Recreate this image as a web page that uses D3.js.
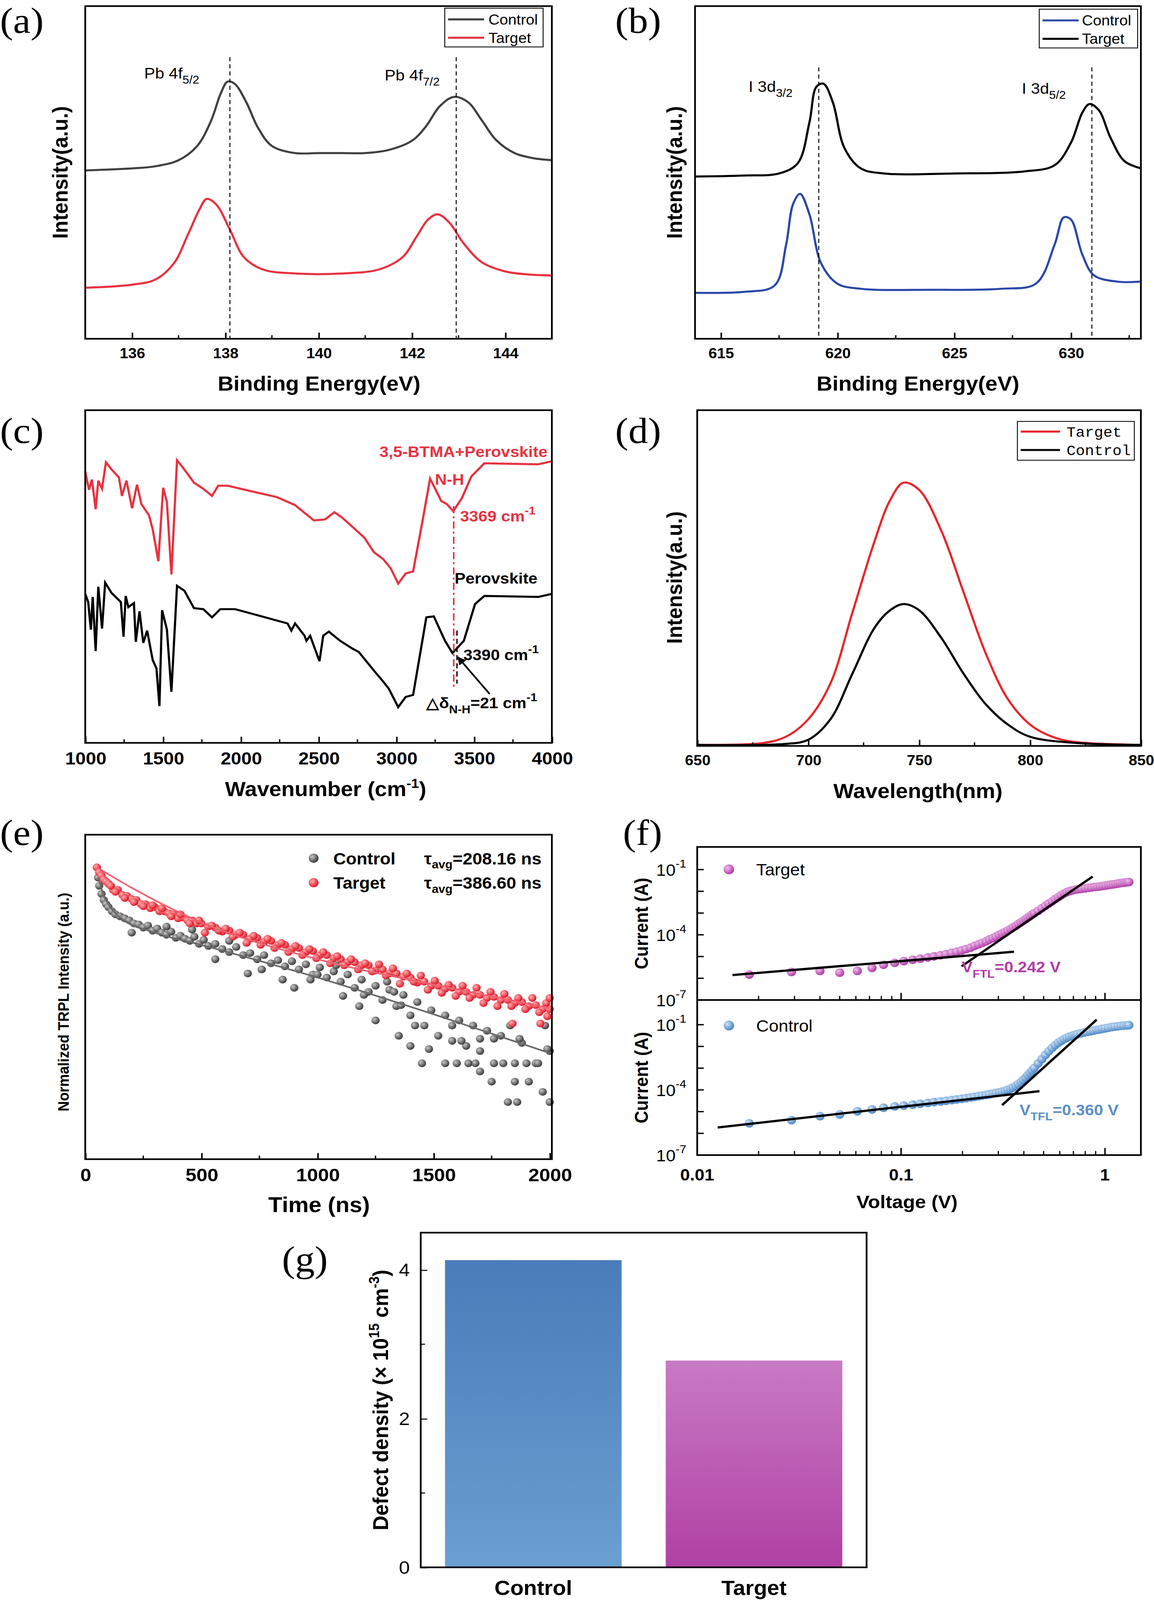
<!DOCTYPE html>
<html><head><meta charset="utf-8">
<script src="https://cdn.jsdelivr.net/npm/d3@7"></script>
<style>html,body{margin:0;padding:0;background:#fff;overflow:hidden}svg{display:block}text{font-family:"Liberation Sans",Arial,sans-serif}</style>
</head><body>
<svg id="fig" viewBox="0 0 1056 1568" preserveAspectRatio="none" style="width:100vw;height:100vh"></svg>
<script>
// ---- data (a) Pb 4f XPS: [binding energy, intensity]
const pbControl = [[135,165],[136,167],[136.5,169],[137,175],[137.4,189],[137.7,214],[137.9,240],[138.05,252],[138.2,250],[138.45,232],[138.7,207],[139,189],[139.5,182],[140,182],[140.5,182],[141,182],[141.5,185],[142,194],[142.3,208],[142.6,228],[142.9,237],[143.2,232],[143.5,214],[143.8,195],[144.2,182],[144.6,177],[145,175]];
const pbTarget = [[135,50],[136,53],[136.5,58],[136.9,74],[137.2,102],[137.45,127],[137.6,137],[137.8,132],[138.1,107],[138.4,80],[138.8,68],[139.5,64],[140.5,64],[141.3,68],[141.8,80],[142.1,100],[142.35,117],[142.55,122],[142.8,114],[143.1,94],[143.5,75],[144,66],[144.5,63],[145,62]];
const pbPeaks = [138.1, 142.95];
// (b) I 3d XPS
const iTarget = [[613.9,159],[616,160],[617.5,162],[618.3,172],[618.8,212],[619.1,247],[619.4,250],[619.8,232],[620.3,187],[621,167],[622,162],[625,162],[628,164],[629.3,170],[630,192],[630.5,222],[630.8,230],[631.2,224],[631.7,197],[632.3,174],[633,167]];
const iControl = [[613.9,45],[616,46],[617.3,52],[617.8,92],[618.1,132],[618.4,142],[618.8,122],[619.3,74],[620,54],[621,49],[624,48],[627,49],[628.5,54],[629.3,92],[629.7,119],[630,117],[630.5,82],[631,62],[632,56],[633,56]];
const iPeaks = [619.2, 630.9];
// (c) FTIR: [wavenumber, transmittance (a.u.)]
const ftirTarget = [[1000,266],[1024,248],[1043,258],[1067,229],[1084,257],[1108,249],[1133,275],[1169,268],[1217,260],[1236,242],[1265,257],[1301,230],[1333,253],[1361,234],[1410,223],[1434,209],[1470,178],[1501,250],[1525,236],[1554,165],[1590,277],[1627,270],[1699,255],[1759,249],[1815,242],[1855,252],[1916,252],[2084,246],[2229,241],[2349,233],[2470,218],[2542,219],[2602,226],[2650,221],[2723,211],[2795,201],[2855,187],[2916,180],[2964,171],[3012,156],[3060,166],[3108,168],[3169,218],[3217,259],[3253,248],[3289,237],[3325,234],[3366,227],[3422,240],[3482,261],[3566,274],[3913,273],[4000,276]];
const ftirControl = [[1000,146],[1019,138],[1036,111],[1048,143],[1067,90],[1084,153],[1108,112],[1128,157],[1169,147],[1229,138],[1246,104],[1260,144],[1277,133],[1313,137],[1325,99],[1349,129],[1373,98],[1398,110],[1434,81],[1458,73],[1477,36],[1494,130],[1525,111],[1554,50],[1590,154],[1638,149],[1699,132],[1759,131],[1815,123],[1868,131],[1964,131],[2133,124],[2301,117],[2325,110],[2349,117],[2410,105],[2422,100],[2446,105],[2506,80],[2530,105],[2566,109],[2639,100],[2711,93],[2759,89],[2855,71],[2916,60],[2952,53],[3012,35],[3060,45],[3108,47],[3193,123],[3241,124],[3313,100],[3361,88],[3434,100],[3506,136],[3566,144],[3913,143],[4000,146]];
const nhPeaks = [3369, 3390];
// (d) PL: [wavelength, intensity]
const plTarget = [[650,1],[680,3],[690,9],[700,26],[710,61],[720,131],[730,201],[737,241],[743,258],[750,251],[760,211],[770,151],[780,91],[790,46],[800,21],[810,9],[820,4],[850,1]];
const plControl = [[650,1],[690,2],[700,6],[710,26],[720,71],[730,116],[737,133],[743,139],[750,133],[760,106],[770,71],[780,41],[790,21],[800,9],[820,3],[850,1]];
// (e) TRPL: [time ns, signal (a.u.)]
const trTarget = [[50,286],[60,281],[70,278],[80,274],[90,272],[100,270],[120,264],[140,264],[160,259],[180,258],[200,255],[220,254],[240,250],[260,250],[280,246],[300,247],[320,243],[340,243],[360,241],[380,240],[400,236],[420,237],[440,234],[460,234],[480,231],[500,231],[530,228],[560,227],[590,223],[620,224],[650,220],[680,220],[710,216],[740,217],[770,213],[800,214],[830,210],[860,210],[890,206],[920,207],[950,203],[980,204],[1010,200],[1040,200],[1070,197],[1100,196],[1130,193],[1160,193],[1190,190],[1220,190],[1250,185],[1280,186],[1310,182],[1340,182],[1370,179],[1400,178],[1430,173],[1460,174],[1490,170],[1520,170],[1550,167],[1580,168],[1610,164],[1640,164],[1670,161],[1700,161],[1730,158],[1760,159],[1790,156],[1820,156],[1850,153],[1880,154],[1910,150],[1940,151],[1970,147],[2000,147],
  [110,268],[130,262],[170,256],[210,252],[250,248],[290,249],[330,246],[370,238],[410,240],[450,231],[490,234],[515,222],[545,229],[575,224],[605,226],[635,218],[665,222],[695,212],[725,219],[755,210],[785,216],[815,207],[845,212],[875,203],[905,209],[935,200],[965,206],[995,197],[1025,203],[1055,192],[1085,199],[1115,190],[1145,196],[1175,186],[1205,192],[1235,184],[1265,191],[1295,180],[1325,187],[1355,172],[1385,182],[1415,174],[1445,180],[1475,166],[1505,175],[1535,163],[1565,171],[1595,160],[1625,170],[1655,158],[1685,168],[1715,153],[1745,164],[1775,150],[1805,162],[1835,150],[1865,158],[1895,147],[1925,158],[1955,144],[1985,153],
  [1960,133],[1990,140],[1840,133],[2000,158]];
const trControl = [[50,286],[55,276],[60,268],[70,260],[80,254],[90,250],[100,247],[115,243],[130,240],[150,238],[170,236],[190,234],[210,231],[230,230],[250,227],[270,229],[290,224],[310,226],[330,222],[350,220],[370,223],[390,217],[410,219],[430,216],[450,214],[470,218],[490,211],[510,215],[530,209],[560,211],[590,206],[620,203],[650,208],[680,200],[710,202],[740,196],[770,200],[800,192],[830,195],[860,189],[890,194],[920,186],[950,191],[980,181],[1010,188],[1040,178],[1070,184],[1100,174],[1130,181],[1160,168],[1190,176],[1220,164],[1250,170],[1280,156],[1310,166],[1340,150],[1370,161],[1400,141],[1430,154],[1460,131],[1490,146],[1520,121],[1550,141],[1580,116],[1610,136],[1640,111],[1670,131],[1700,106],[1730,126],[1760,94],[1790,121],[1820,56],[1850,94],[1880,114],[1910,76],[1940,94],[1970,66],[2000,106],[2000,56],[1000,181],[1200,161],[1400,111],[1600,94],[1680,94],[1750,76],[1450,94],[1550,94],[1650,94],[1250,136],[1350,121],[1800,94],[1900,94],[1950,94],[1850,76],
  [200,222],[350,228],[460,225],[560,196],[620,214],[700,182],[760,186],[850,176],[900,168],[970,176],[1080,190],[1110,160],[1180,150],[1300,174],[1330,164],[1360,151],[1420,131],[1480,108],[1580,131],[1620,116],[1700,118],[1760,118],[1830,131],[1870,118],[1980,131],[1990,108],[1700,86],[1860,56]];
const trFitControl = [[50,286],[70,265],[100,250],[150,237],[300,222],[500,210],[1000,178],[1500,142],[2000,104]];
const trFitTarget = [[50,286],[200,266],[500,232],[1000,196],[1500,171],[2000,148]];
// (f) SCLC: [voltage V, log10 current]
const ivTarget = [[0.018,-5.83],[0.029,-5.71],[0.040,-5.66],[0.050,-5.74],[0.061,-5.66],[0.072,-5.52],[0.082,-5.38],[0.093,-5.29],[0.103,-5.21],[0.114,-5.15],[0.124,-5.10],[0.135,-5.04],[0.145,-4.99],[0.156,-4.94],[0.166,-4.89],[0.177,-4.83],[0.187,-4.78],[0.198,-4.72],[0.208,-4.66],[0.219,-4.59],[0.229,-4.51],[0.240,-4.44],[0.250,-4.37],[0.261,-4.30],[0.271,-4.22],[0.282,-4.15],[0.292,-4.08],[0.303,-4.00],[0.313,-3.93],[0.324,-3.87],[0.334,-3.80],[0.345,-3.73],[0.355,-3.65],[0.366,-3.58],[0.376,-3.50],[0.387,-3.43],[0.397,-3.36],[0.408,-3.28],[0.418,-3.21],[0.429,-3.14],[0.439,-3.07],[0.45,-3.0],[0.47,-2.9],[0.49,-2.78],[0.51,-2.67],[0.53,-2.56],[0.55,-2.46],[0.57,-2.36],[0.59,-2.27],[0.61,-2.18],[0.63,-2.1],[0.65,-2.04],[0.67,-1.99],[0.69,-1.96],[0.71,-1.93],[0.73,-1.91],[0.75,-1.9],[0.77,-1.88],[0.8,-1.86],[0.83,-1.84],[0.86,-1.82],[0.89,-1.80],[0.92,-1.79],[0.95,-1.77],[0.98,-1.75],[1.01,-1.73],[1.04,-1.71],[1.07,-1.69],[1.1,-1.68],[1.13,-1.66],[1.16,-1.64],[1.19,-1.62],[1.22,-1.61],[1.25,-1.6],[1.28,-1.58],[1.31,-1.57]];
const ivControl = [[0.018,-5.54],[0.029,-5.39],[0.040,-5.21],[0.050,-5.13],[0.061,-4.98],[0.072,-4.90],[0.082,-4.82],[0.093,-4.76],[0.103,-4.72],[0.114,-4.68],[0.124,-4.64],[0.135,-4.6],[0.145,-4.56],[0.156,-4.53],[0.166,-4.5],[0.177,-4.47],[0.187,-4.44],[0.198,-4.41],[0.208,-4.38],[0.219,-4.35],[0.229,-4.32],[0.240,-4.29],[0.250,-4.26],[0.261,-4.23],[0.271,-4.2],[0.282,-4.17],[0.292,-4.14],[0.303,-4.11],[0.313,-4.08],[0.324,-4.04],[0.334,-3.99],[0.345,-3.94],[0.355,-3.88],[0.366,-3.81],[0.376,-3.73],[0.387,-3.64],[0.397,-3.54],[0.408,-3.43],[0.418,-3.32],[0.429,-3.21],[0.439,-3.10],[0.45,-2.99],[0.47,-2.78],[0.49,-2.58],[0.51,-2.39],[0.53,-2.22],[0.55,-2.07],[0.57,-1.94],[0.59,-1.83],[0.61,-1.74],[0.63,-1.66],[0.65,-1.6],[0.67,-1.55],[0.69,-1.51],[0.71,-1.47],[0.73,-1.44],[0.76,-1.40],[0.79,-1.36],[0.82,-1.33],[0.85,-1.30],[0.88,-1.27],[0.91,-1.24],[0.94,-1.22],[0.97,-1.19],[1.0,-1.17],[1.04,-1.14],[1.08,-1.11],[1.12,-1.09],[1.16,-1.07],[1.2,-1.05],[1.24,-1.04],[1.28,-1.03],[1.31,-1.02]];
const fitTarget = [[[0.0149,-5.85],[0.358,-4.78]],[[0.198,-5.45],[0.87,-1.32]]];
const fitControl = [[[0.0126,-5.73],[0.477,-4.06]],[[0.313,-4.70],[0.91,-0.77]]];
// (g) defect density
const devices = ["Control", "Target"];
const defectDensity = [4.13, 2.78];

const svg = d3.select("#fig");
const black = "#000";
const defs = svg.append("defs");

function frame(x0, y0, x1, y1) {
  svg.append("rect").attr("x", x0).attr("y", y0).attr("width", x1 - x0).attr("height", y1 - y0)
    .attr("fill", "none").attr("stroke", black).attr("stroke-width", 1.6);
}
function label(x, y, txt, size, opts = {}) {
  const t = svg.append("text").attr("x", x).attr("y", y).attr("font-size", size)
    .attr("font-weight", opts.bold ? "bold" : "normal").attr("fill", opts.fill || black)
    .attr("text-anchor", opts.anchor || "start");
  if (opts.rotate) t.attr("transform", `rotate(-90,${x},${y})`);
  if (opts.family) t.style("font-family", opts.family);
  t.html(txt);
  return t;
}
function letter(x, y, s) { label(x, y, s, 36, { family: '"Liberation Serif",serif' }); }
function xAxis(scale, y, ticks, minor, size, fmt) {
  const g = svg.append("g").attr("transform", `translate(0,${y})`)
    .call(d3.axisBottom(scale).tickValues(ticks).tickSize(-6).tickPadding(9).tickFormat(fmt || d3.format("d")));
  g.select(".domain").remove();
  g.selectAll("text").attr("font-size", size).attr("font-weight", "bold").style("font-family", '"Liberation Sans",Arial');
  g.selectAll("line").attr("stroke-width", 1.4);
  if (minor) minor.forEach(v => svg.append("line").attr("x1", scale(v)).attr("x2", scale(v)).attr("y1", y).attr("y2", y - 3.5).attr("stroke", black).attr("stroke-width", 1.2));
}
const line = (sx, sy) => d3.line().x(d => sx(d[0])).y(d => sy(d[1]));

// ---------- (a)
{
  const x = d3.scaleLinear().domain([135, 145]).range([78, 505]);
  const y = d3.scaleLinear().domain([0, 326]).range([332, 6]);
  svg.append("path").datum(pbControl).attr("d", line(x, y).curve(d3.curveCatmullRom)).attr("fill", "none").attr("stroke", "#404040").attr("stroke-width", 2);
  svg.append("path").datum(pbTarget).attr("d", line(x, y).curve(d3.curveCatmullRom)).attr("fill", "none").attr("stroke", "#e8313f").attr("stroke-width", 2);
  pbPeaks.forEach(p => svg.append("line").attr("x1", x(p)).attr("x2", x(p)).attr("y1", 56).attr("y2", 332).attr("stroke", black).attr("stroke-dasharray", "4,3").attr("stroke-width", 0.9));
  frame(78, 6, 505, 332);
  xAxis(x, 332, [136, 138, 140, 142, 144], [135, 137, 139, 141, 143, 145], 14);
  label(292, 383, "Binding Energy(eV)", 20, { bold: true, anchor: "middle" });
  label(62, 169, "Intensity(a.u.)", 20, { bold: true, anchor: "middle", rotate: true });
  label(132, 77, 'Pb 4f<tspan dy="5" font-size="11">5/2</tspan>', 15);
  label(352, 79, 'Pb 4f<tspan dy="5" font-size="11">7/2</tspan>', 15);
  svg.append("rect").attr("x", 407).attr("y", 8).attr("width", 90).attr("height", 38).attr("fill", "#fff").attr("stroke", black).attr("stroke-width", 0.8);
  [["Control", "#404040"], ["Target", "#e8313f"]].forEach((d, i) => {
    svg.append("line").attr("x1", 410).attr("x2", 443).attr("y1", 19 + i * 18).attr("y2", 19 + i * 18).attr("stroke", d[1]).attr("stroke-width", 2);
    label(447, 24 + i * 18, d[0], 14);
  });
  letter(0, 32, "(a)");
}
// ---------- (b)
{
  const x = d3.scaleLinear().domain([613.9, 633]).range([636, 1044]);
  const y = d3.scaleLinear().domain([0, 326]).range([332, 6]);
  svg.append("path").datum(iTarget).attr("d", line(x, y).curve(d3.curveCatmullRom)).attr("fill", "none").attr("stroke", black).attr("stroke-width", 2);
  svg.append("path").datum(iControl).attr("d", line(x, y).curve(d3.curveCatmullRom)).attr("fill", "none").attr("stroke", "#2a48a8").attr("stroke-width", 2);
  iPeaks.forEach(p => svg.append("line").attr("x1", x(p)).attr("x2", x(p)).attr("y1", 66).attr("y2", 332).attr("stroke", black).attr("stroke-dasharray", "4,3").attr("stroke-width", 0.9));
  frame(636, 6, 1044, 332);
  xAxis(x, 332, [615, 620, 625, 630], [617.5, 622.5, 627.5, 632.5], 14);
  label(840, 383, "Binding Energy(eV)", 20, { bold: true, anchor: "middle" });
  label(624, 169, "Intensity(a.u.)", 20, { bold: true, anchor: "middle", rotate: true });
  label(685, 90, 'I 3d<tspan dy="5" font-size="11">3/2</tspan>', 15);
  label(935, 92, 'I 3d<tspan dy="5" font-size="11">5/2</tspan>', 15);
  svg.append("rect").attr("x", 951).attr("y", 9).attr("width", 90).attr("height", 38).attr("fill", "#fff").attr("stroke", black).attr("stroke-width", 0.8);
  [["Control", "#2a48a8"], ["Target", black]].forEach((d, i) => {
    svg.append("line").attr("x1", 954).attr("x2", 987).attr("y1", 20 + i * 18).attr("y2", 20 + i * 18).attr("stroke", d[1]).attr("stroke-width", 2);
    label(990, 25 + i * 18, d[0], 14);
  });
  letter(563, 32, "(b)");
}
// ---------- (c)
{
  const x = d3.scaleLinear().domain([1000, 4000]).range([78, 505]);
  const y = d3.scaleLinear().domain([0, 326]).range([728, 402]);
  svg.append("path").datum(ftirTarget).attr("d", line(x, y)).attr("fill", "none").attr("stroke", "#e8313f").attr("stroke-width", 2);
  svg.append("path").datum(ftirControl).attr("d", line(x, y)).attr("fill", "none").attr("stroke", black).attr("stroke-width", 2);
  svg.append("line").attr("x1", x(nhPeaks[0])).attr("x2", x(nhPeaks[0])).attr("y1", 496).attr("y2", 676).attr("stroke", "#e8313f").attr("stroke-dasharray", "7,3,2,3").attr("stroke-width", 1.4);
  svg.append("line").attr("x1", x(nhPeaks[1])).attr("x2", x(nhPeaks[1])).attr("y1", 618).attr("y2", 670).attr("stroke", black).attr("stroke-dasharray", "5,3").attr("stroke-width", 1.2);
  frame(78, 402, 505, 728);
  xAxis(x, 728, [1000, 1500, 2000, 2500, 3000, 3500, 4000], [1250, 1750, 2250, 2750, 3250, 3750], 17);
  label(298, 780, 'Wavenumber (cm<tspan dy="-8" font-size="13">-1</tspan><tspan dy="8">)</tspan>', 20, { bold: true, anchor: "middle" });
  label(501, 448, "3,5-BTMA+Perovskite", 15, { bold: true, anchor: "end", fill: "#e8313f" });
  label(398, 475, "N-H", 15, { bold: true, fill: "#e8313f" });
  label(421, 511, '3369 cm<tspan dy="-7" font-size="11">-1</tspan>', 15, { bold: true, fill: "#e8313f" });
  label(416, 572, "Perovskite", 15, { bold: true });
  label(424, 647, '3390 cm<tspan dy="-7" font-size="11">-1</tspan>', 15, { bold: true });
  label(390, 694, '△δ<tspan dy="5" font-size="11">N-H</tspan><tspan dy="-5">=21 cm</tspan><tspan dy="-7" font-size="11">-1</tspan>', 15, { bold: true });
  defs.append("marker").attr("id", "arr").attr("viewBox", "0 0 10 10").attr("refX", 9).attr("refY", 5)
    .attr("markerWidth", 5).attr("markerHeight", 5).attr("orient", "auto").append("path").attr("d", "M0,0L10,5L0,10z").attr("fill", black);
  svg.append("line").attr("x1", 448).attr("y1", 680).attr("x2", 419).attr("y2", 644).attr("stroke", black).attr("stroke-width", 1.6).attr("marker-end", "url(#arr)");
  letter(0, 434, "(c)");
}
// ---------- (d)
{
  const x = d3.scaleLinear().domain([650, 850]).range([638, 1044]);
  const y = d3.scaleLinear().domain([0, 329]).range([731, 402]);
  svg.append("path").datum(plTarget).attr("d", line(x, y).curve(d3.curveCatmullRom)).attr("fill", "none").attr("stroke", "#e8262c").attr("stroke-width", 2);
  svg.append("path").datum(plControl).attr("d", line(x, y).curve(d3.curveCatmullRom)).attr("fill", "none").attr("stroke", black).attr("stroke-width", 2);
  frame(638, 402, 1044, 731);
  xAxis(x, 731, [650, 700, 750, 800, 850], [675, 725, 775, 825], 14);
  label(840, 782, "Wavelength(nm)", 20, { bold: true, anchor: "middle" });
  label(624, 566, "Intensity(a.u.)", 20, { bold: true, anchor: "middle", rotate: true });
  svg.append("rect").attr("x", 931).attr("y", 413).attr("width", 107).attr("height", 38).attr("fill", "#fff").attr("stroke", black).attr("stroke-width", 0.8);
  [["Target", "#e8262c"], ["Control", black]].forEach((d, i) => {
    svg.append("line").attr("x1", 934).attr("x2", 970).attr("y1", 423 + i * 18).attr("y2", 423 + i * 18).attr("stroke", d[1]).attr("stroke-width", 2);
    label(976, 428 + i * 18, d[0], 14, { family: '"Liberation Mono",monospace' });
  });
  letter(563, 434, "(d)");
}
// ---------- (e)
{
  const x = d3.scaleLinear().domain([0, 2000]).range([78, 503]);
  const y = d3.scaleLinear().domain([0, 318]).range([1136, 818]);
  const ball = (id, c0, c1) => {
    const g = defs.append("radialGradient").attr("id", id).attr("cx", "35%").attr("cy", "35%").attr("r", "65%");
    g.append("stop").attr("offset", "0%").attr("stop-color", c0);
    g.append("stop").attr("offset", "100%").attr("stop-color", c1);
  };
  ball("gGray", "#c8c8c8", "#3c3c3c"); ball("gRed", "#ffb0b0", "#e01828");
  ball("gPur", "#f0c0ec", "#b03ca8"); ball("gBlu", "#d0e4f6", "#4c88c8");
  svg.append("g").selectAll("circle").data(trControl).join("circle").attr("cx", d => x(d[0])).attr("cy", d => y(d[1])).attr("r", 3.8).attr("fill", "url(#gGray)");
  svg.append("path").datum(trFitControl).attr("d", line(x, y).curve(d3.curveMonotoneX)).attr("fill", "none").attr("stroke", "#6a6a6a").attr("stroke-width", 1.6);
  svg.append("g").selectAll("circle").data(trTarget).join("circle").attr("cx", d => x(d[0])).attr("cy", d => y(d[1])).attr("r", 3.8).attr("fill", "url(#gRed)");
  svg.append("path").datum(trFitTarget).attr("d", line(x, y).curve(d3.curveMonotoneX)).attr("fill", "none").attr("stroke", "#f06070").attr("stroke-width", 1.6);
  frame(78, 818, 505, 1136);
  xAxis(x, 1136, [0, 500, 1000, 1500, 2000], [250, 750, 1250, 1750], 18);
  label(292, 1188, "Time (ns)", 21, { bold: true, anchor: "middle" });
  label(63, 982, "Normalized  TRPL Intensity (a.u.)", 14, { bold: true, anchor: "middle", rotate: true });
  [["Control", "gGray", "208.16"], ["Target", "gRed", "386.60"]].forEach((d, i) => {
    svg.append("circle").attr("cx", 287).attr("cy", 841 + i * 24).attr("r", 4.5).attr("fill", `url(#${d[1]})`);
    label(305, 847 + i * 24, d[0], 16, { bold: true });
    label(388, 847 + i * 24, `τ<tspan dy="4" font-size="11">avg</tspan><tspan dy="-4">=${d[2]} ns</tspan>`, 16, { bold: true });
  });
  letter(0, 828, "(e)");
}
// ---------- (f)
{
  const x = d3.scaleLog().domain([0.01, 1.5]).range([638, 1044]);
  const panels = [
    { data: ivTarget, fits: fitTarget, top: 830, bot: 980, grad: "gPur", col: "#b03ca8", name: "Target", v: 'V<tspan dy="5" font-size="11">FTL</tspan><tspan dy="-5">=0.242 V</tspan>', vx: 880, vy: 953 },
    { data: ivControl, fits: fitControl, top: 980, bot: 1132, grad: "gBlu", col: "#5b8fc8", name: "Control", v: 'V<tspan dy="5" font-size="11">TFL</tspan><tspan dy="-5">=0.360 V</tspan>', vx: 933, vy: 1093 }];
  panels.forEach(p => {
    const y = d3.scaleLinear().domain([-7, 0]).range([p.bot, p.bot - 7 * 21.3]);
    svg.append("g").selectAll("circle").data(p.data).join("circle").attr("cx", d => x(d[0])).attr("cy", d => y(d[1])).attr("r", 4.2).attr("fill", `url(#${p.grad})`);
    p.fits.forEach(f => svg.append("path").datum(f).attr("d", line(x, y)).attr("stroke", black).attr("stroke-width", 2.2));
    frame(638, p.top, 1044, p.bot);
    for (let e = -7; e <= -1; e++) {
      svg.append("line").attr("x1", 638).attr("x2", 644).attr("y1", y(e)).attr("y2", y(e)).attr("stroke", black).attr("stroke-width", 1.3);
    }
    [-1, -4, -7].forEach(e => label(628, y(e) + 6, `10<tspan dy="-8" font-size="11">${e}</tspan>`, 16, { anchor: "end" }));
    [0.01, 0.1, 1].forEach(v => svg.append("line").attr("x1", x(v)).attr("x2", x(v)).attr("y1", p.bot).attr("y2", p.bot - 7).attr("stroke", black).attr("stroke-width", 1.3));
    [0.02, 0.03, 0.04, 0.05, 0.06, 0.07, 0.08, 0.09, 0.2, 0.3, 0.4, 0.5, 0.6, 0.7, 0.8, 0.9].forEach(v =>
      svg.append("line").attr("x1", x(v)).attr("x2", x(v)).attr("y1", p.bot).attr("y2", p.bot - 4).attr("stroke", black).attr("stroke-width", 1.1));
    svg.append("circle").attr("cx", 667).attr("cy", p.top + 22 + (p.name === "Control" ? 3 : 0)).attr("r", 4.8).attr("fill", `url(#${p.grad})`);
    label(692, p.top + 28 + (p.name === "Control" ? 3 : 0), p.name, 16);
    label(p.vx, p.vy, p.v, 15, { bold: true, fill: p.col });
    label(593, (p.top + p.bot) / 2, "Current (A)", 17, { bold: true, anchor: "middle", rotate: true });
  });
  [[0.01, "0.01"], [0.1, "0.1"], [1, "1"]].forEach(d => label(x(d[0]), 1157, d[1], 16, { bold: true, anchor: "middle" }));
  label(830, 1184, "Voltage (V)", 18, { bold: true, anchor: "middle" });
  letter(570, 828, "(f)");
}
// ---------- (g)
{
  const x = d3.scaleBand().domain(devices).range([385, 793]).paddingInner(0.2).paddingOuter(0.11);
  const y = d3.scaleLinear().domain([0, 4.5]).range([1536, 1208]);
  [["bC", "#4a7cba", "#6a9fd0"], ["bT", "#c87ac4", "#b040a4"]].forEach(g => {
    const lg = defs.append("linearGradient").attr("id", g[0]).attr("x1", 0).attr("x2", 0).attr("y1", 0).attr("y2", 1);
    lg.append("stop").attr("offset", "0%").attr("stop-color", g[1]);
    lg.append("stop").attr("offset", "100%").attr("stop-color", g[2]);
  });
  svg.selectAll(".bar").data(devices).join("rect").attr("class", "bar")
    .attr("x", d => x(d)).attr("width", x.bandwidth())
    .attr("y", (d, i) => y(defectDensity[i])).attr("height", (d, i) => 1536 - y(defectDensity[i]))
    .attr("fill", (d, i) => i === 0 ? "url(#bC)" : "url(#bT)");
  frame(385, 1208, 793, 1536);
  const ya = svg.append("g").attr("transform", "translate(385,0)").call(d3.axisLeft(y).tickValues([0, 2, 4]).tickSize(-6).tickPadding(10).tickFormat(d3.format("d")));
  ya.select(".domain").remove();
  ya.selectAll("text").attr("font-size", 18).style("font-family", '"Liberation Sans",Arial');
  [1, 3].forEach(v => svg.append("line").attr("x1", 385).attr("x2", 389).attr("y1", y(v)).attr("y2", y(v)).attr("stroke", black));
  devices.forEach(d => label(x(d) + x.bandwidth() / 2, 1563, d, 20, { bold: true, anchor: "middle" }));
  label(355, 1372, 'Defect density (× 10<tspan dy="-8" font-size="13">15</tspan><tspan dy="8"> cm</tspan><tspan dy="-8" font-size="13">-3</tspan><tspan dy="8">)</tspan>', 20, { bold: true, anchor: "middle", rotate: true });
  letter(258, 1246, "(g)");
}
</script>
</body></html>
